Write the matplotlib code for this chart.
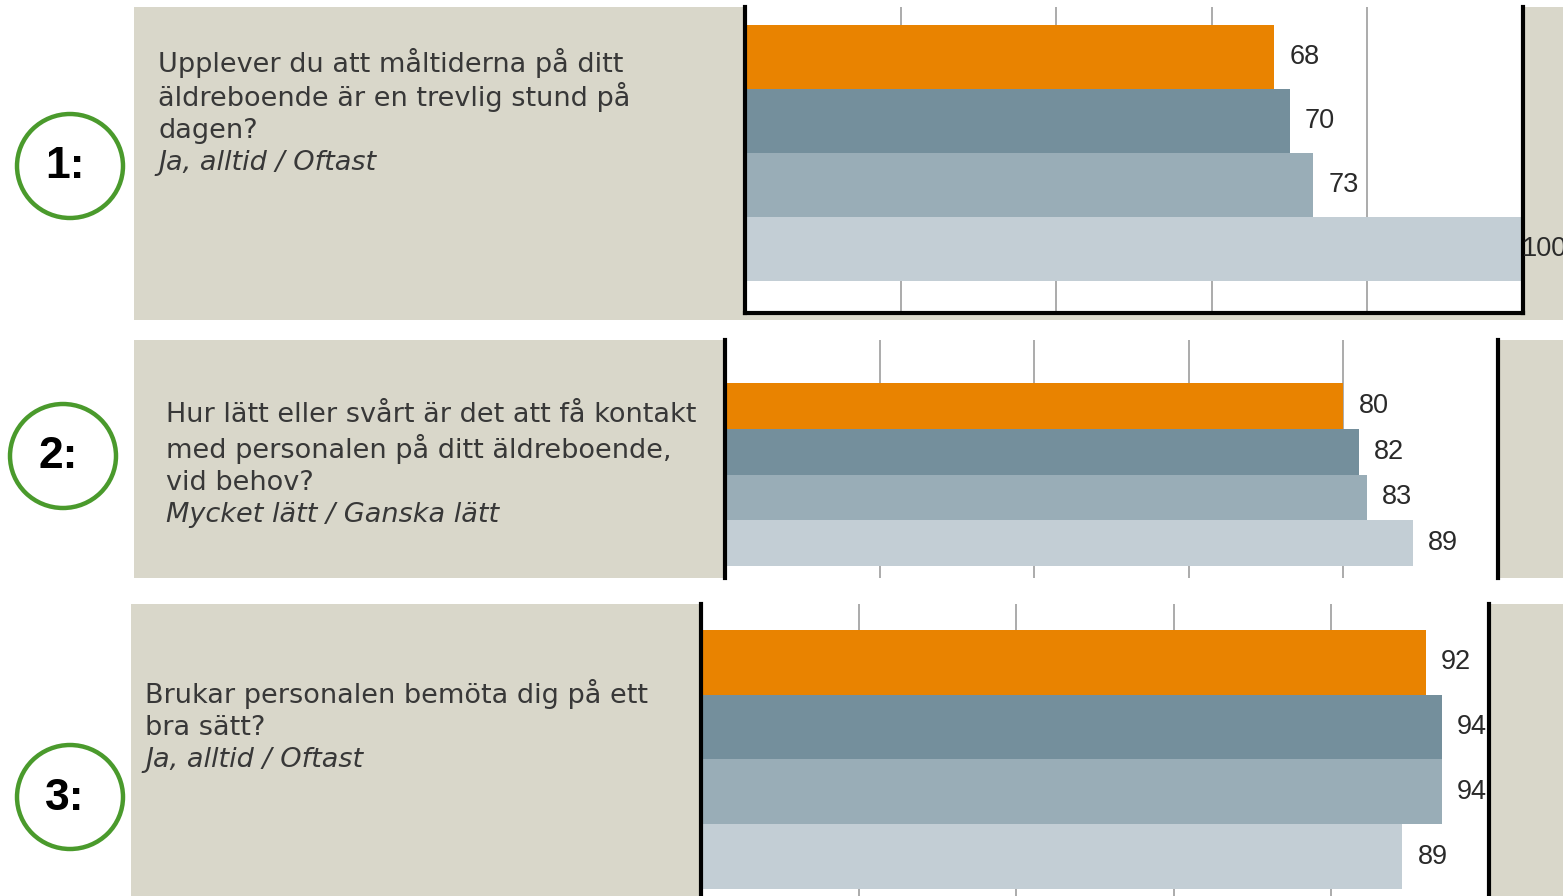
import matplotlib
matplotlib.use('Agg')
import matplotlib.pyplot as plt
from matplotlib.patches import Rectangle, Ellipse

W, H = 1563, 896

# data
q1_values = [68, 70, 73, 100]
q2_values = [80, 82, 83, 89]
q3_values = [92, 94, 94, 89]
bar_colors = ['#E98300', '#748F9C', '#99ADB7', '#C3CED5']

q1_text = ['Upplever du att måltiderna på ditt', 'äldreboende är en trevlig stund på', 'dagen?']
q1_answer = 'Ja, alltid / Oftast'
q2_text = ['Hur lätt eller svårt är det att få kontakt', 'med personalen på ditt äldreboende,', 'vid behov?']
q2_answer = 'Mycket lätt / Ganska lätt'
q3_text = ['Brukar personalen bemöta dig på ett', 'bra sätt?']
q3_answer = 'Ja, alltid / Oftast'
numbers = ['1:', '2:', '3:']

BEIGE = '#D9D7CA'
GREEN = '#4A9A2C'
TEXT = '#383838'

fig = plt.figure(figsize=(W / 100, H / 100), dpi=100)
fig.patch.set_facecolor('white')


def frac(x0, y0, x1, y1):
    return [x0 / W, 1 - y1 / H, (x1 - x0) / W, (y1 - y0) / H]


# background layer: beige panels, circles, question text
bg = fig.add_axes([0, 0, 1, 1])
bg.set_xlim(0, W)
bg.set_ylim(H, 0)
bg.axis('off')

panels = [
    dict(box=(134, 7, 1563, 320), circ=(70, 166), tx=158, ty=63, lines=q1_text, ans=q1_answer,
         plot=(745, 7, 1523, 313), ylim=(4.0, -0.78), vals=q1_values, clip=False, bottom=True),
    dict(box=(134, 340, 1563, 578), circ=(63, 456), tx=166, ty=415, lines=q2_text, ans=q2_answer,
         plot=(725, 340, 1498, 578), ylim=(3.76, -1.44), vals=q2_values, clip=False, bottom=False),
    dict(box=(131, 604, 1563, 896), circ=(70, 797), tx=145, ty=694, lines=q3_text, ans=q3_answer,
         plot=(701, 604, 1489, 896), ylim=(3.61, -0.90), vals=q3_values, clip=True, bottom=False),
]

for i, p in enumerate(panels):
    x0, y0, x1, y1 = p['box']
    bg.add_patch(Rectangle((x0, y0), x1 - x0, y1 - y0, facecolor=BEIGE, edgecolor='none'))
    cx, cy = p['circ']
    bg.add_patch(Ellipse((cx, cy), 106, 104, facecolor='white', edgecolor=GREEN, linewidth=3.2))
    bg.text(cx - 5, cy + 1, numbers[i], fontsize=32, fontweight='bold', family='Liberation Sans',
            ha='center', va='center', color='black')
    y = p['ty']
    for line in p['lines']:
        bg.text(p['tx'], y, line, fontsize=19.5, color=TEXT, va='center', ha='left', family='DejaVu Sans')
        y += 34
    bg.text(p['tx'], y - 2, p['ans'], fontsize=19.5, color=TEXT, va='center', ha='left',
            style='italic', family='DejaVu Sans')

# bar charts
for p in panels:
    ax = fig.add_axes(frac(*p['plot']))
    ax.set_facecolor('white')
    pos = list(range(len(p['vals'])))
    ax.barh(pos, p['vals'], height=1.0, color=bar_colors, zorder=2)
    ax.set_xlim(0, 100)
    ax.set_ylim(*p['ylim'])
    ax.set_xticks([20, 40, 60, 80])
    ax.set_yticks([])
    ax.tick_params(axis='x', length=0, labelbottom=False)
    ax.xaxis.grid(True, color='#959595', linewidth=1.1, zorder=0)
    ax.set_axisbelow(True)
    for side in ['left', 'right']:
        ax.spines[side].set_color('black')
        ax.spines[side].set_linewidth(3)
    ax.spines['top'].set_visible(False)
    ax.spines['bottom'].set_visible(p['bottom'])
    ax.spines['bottom'].set_linewidth(3)
    for yy, v in zip(pos, p['vals']):
        dx = 11 if v < 100 else -1
        ax.annotate(str(v), (v, yy), xytext=(dx, 0), textcoords='offset points',
                    ha='left', va='center', fontsize=19.5, color='#2a2a2a',
                    family='Liberation Sans', annotation_clip=False, clip_on=p['clip'])

fig.savefig('out.png', dpi=100, facecolor='white')
